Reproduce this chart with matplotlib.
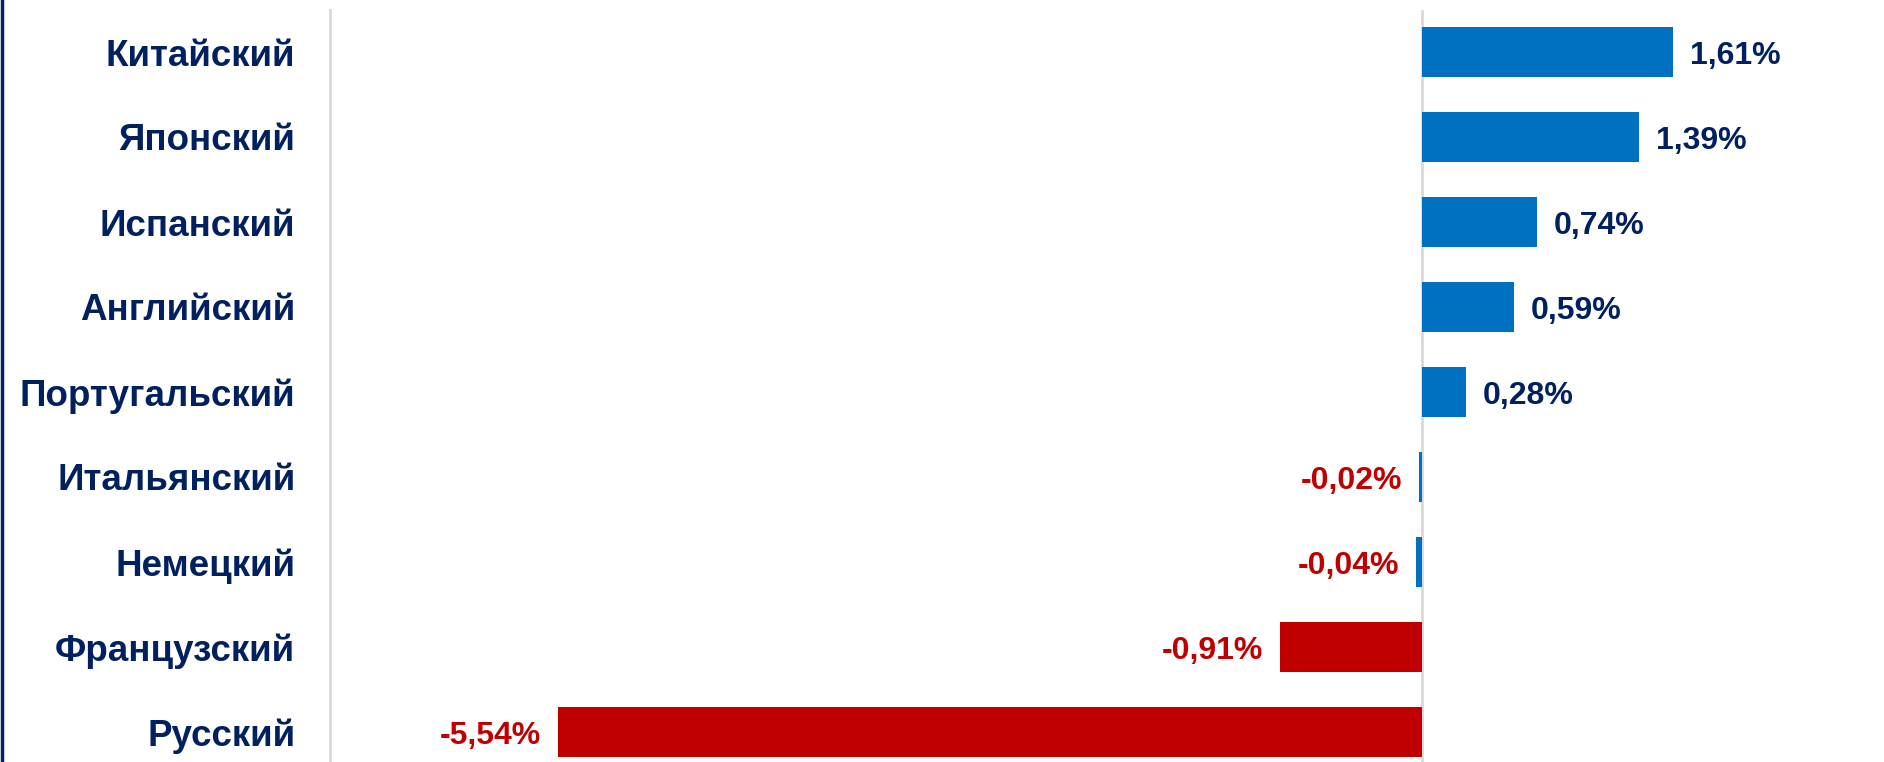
import matplotlib.pyplot as plt
from matplotlib.lines import Line2D

languages = ["Китайский", "Японский", "Испанский", "Английский", "Португальский",
             "Итальянский", "Немецкий", "Французский", "Русский"]
changes = [1.61, 1.39, 0.74, 0.59, 0.28, -0.02, -0.04, -0.91, -5.54]
bar_colors = ["#0070C0"] * 7 + ["#C00000"] * 2

NAVY = "#002060"
RED = "#C00000"

plt.rcParams['font.family'] = ['Liberation Sans', 'DejaVu Sans']
plt.rcParams['font.weight'] = 'bold'

W, H = 1884, 762
fig = plt.figure(figsize=(W / 100, H / 100), dpi=100)
# axes: left edge at x=330 px, top at y=10 px, bottom at figure edge
ax = fig.add_axes([330 / W, 0, 1560 / W, (H - 10) / H])

y = list(range(len(languages)))
ax.barh(y, changes, height=0.59, color=bar_colors, zorder=2)

ax.set_xlim(-7, 3)
ax.set_ylim(8 + 30 / 85, -42 / 85)

for yi, v in zip(y, changes):
    label = f"{v:.2f}%".replace(".", ",")
    if v >= 0:
        ax.annotate(label, (v, yi), xytext=(12, -3), textcoords="offset points",
                    ha="left", va="center", fontsize=23, fontweight="bold", color=NAVY)
    else:
        ax.annotate(label, (v, yi), xytext=(-12, -3), textcoords="offset points",
                    ha="right", va="center", fontsize=23, fontweight="bold", color=RED)

ax.set_yticks(y)
ax.set_yticklabels(languages, fontsize=26.5, fontweight="bold", color=NAVY)
ax.tick_params(axis="y", length=0, pad=25)
ax.set_xticks([])

for s in ["top", "right", "bottom"]:
    ax.spines[s].set_visible(False)
ax.spines["left"].set_color("#D9D9D9")
ax.spines["left"].set_linewidth(2)
ax.axvline(0, color="#D9D9D9", linewidth=2, zorder=1)

# dark border on the left edge of the slide
fig.add_artist(Line2D([1.5 / W, 1.5 / W], [0, 1], color=NAVY, linewidth=2.5))

fig.savefig("out.png", dpi=100)
